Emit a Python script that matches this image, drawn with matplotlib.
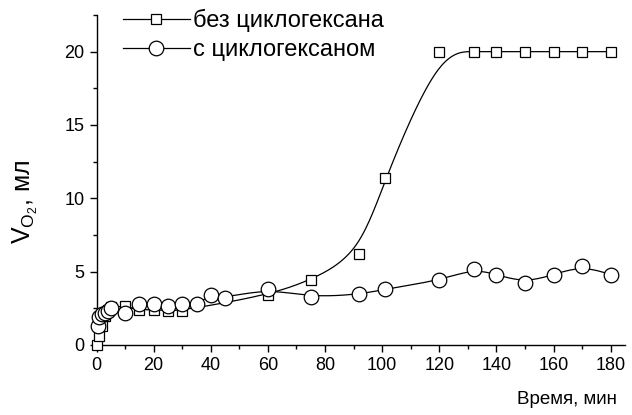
import numpy as np
import matplotlib
matplotlib.use("Agg")
import matplotlib.pyplot as plt
from matplotlib.ticker import MultipleLocator

plt.rcParams['font.family'] = ['Liberation Sans', 'DejaVu Sans']
plt.rcParams['mathtext.fontset'] = 'custom'
plt.rcParams['mathtext.rm'] = 'Liberation Sans'
plt.rcParams['mathtext.it'] = 'Liberation Sans'

# without cyclohexane (squares)
t_no = [0, 1, 2, 3, 4, 5, 10, 15, 20, 25, 30, 60, 75, 92, 101, 120, 132, 140, 150, 160, 170, 180]
v_no = [0, 0.6, 1.3, 2.0, 2.4, 2.6, 2.65, 2.4, 2.4, 2.35, 2.35, 3.4, 4.4, 6.2, 11.4, 20, 20, 20, 20, 20, 20, 20]

# with cyclohexane (circles)
t_cy = [0.5, 1, 2, 3, 4, 5, 10, 15, 20, 25, 30, 35, 40, 45, 60, 75, 92, 101, 120, 132, 140, 150, 160, 170, 180]
v_cy = [1.3, 1.9, 2.1, 2.2, 2.3, 2.5, 2.2, 2.8, 2.8, 2.65, 2.8, 2.8, 3.4, 3.2, 3.85, 3.25, 3.45, 3.8, 4.4, 5.2, 4.8, 4.25, 4.8, 5.4, 4.8]

labels = ['без циклогексана', 'с циклогексаном']


def bspline(x, y, n=40):
    # clamped uniform cubic B-spline, data points used as control points
    p = np.column_stack([x, y]).astype(float)
    p = np.vstack([p[:1], p[:1], p, p[-1:], p[-1:]])
    s = np.linspace(0, 1, n)[:, None]
    b0 = (1 - s) ** 3 / 6
    b1 = (3 * s ** 3 - 6 * s ** 2 + 4) / 6
    b2 = (-3 * s ** 3 + 3 * s ** 2 + 3 * s + 1) / 6
    b3 = s ** 3 / 6
    segs = [b0 * p[i] + b1 * p[i + 1] + b2 * p[i + 2] + b3 * p[i + 3] for i in range(len(p) - 3)]
    c = np.vstack(segs)
    return c[:, 0], c[:, 1]


fig = plt.figure(figsize=(6.32, 4.15), dpi=100)
ax = fig.add_axes([0.1527, 0.1687, 0.8363, 0.7952])

for t, v, m, ms, lab in [(t_no, v_no, 's', 7, labels[0]), (t_cy, v_cy, 'o', 10.5, labels[1])]:
    cx, cy = bspline(t, v)
    ax.plot(cx, cy, color='black', lw=0.9, clip_on=False, zorder=2)
    ax.plot(t, v, linestyle='none', marker=m, ms=ms, mfc='white', mec='black',
            mew=0.9, clip_on=False, zorder=3)
    ax.plot([], [], color='black', lw=0.9, marker=m, ms=ms, mfc='white', mec='black',
            mew=0.9, label=lab)

ax.set_xlim(0, 185)
ax.set_ylim(0, 22.5)
ax.xaxis.set_major_locator(MultipleLocator(20))
ax.xaxis.set_minor_locator(MultipleLocator(10))
ax.yaxis.set_major_locator(MultipleLocator(5))
ax.yaxis.set_minor_locator(MultipleLocator(2.5))
ax.spines['top'].set_visible(False)
ax.spines['right'].set_visible(False)
for sp in ax.spines.values():
    sp.set_linewidth(1.0)
ax.tick_params(which='major', direction='out', length=5, width=1.0, labelsize=13)
ax.tick_params(which='minor', direction='out', length=3, width=1.0)

ax.set_xlabel('Время, мин', fontsize=13.5, loc='right')
ax.xaxis.set_label_coords(0.985, -0.14)
ax.set_ylabel(r'$\mathregular{V_{O_2}}$, мл', fontsize=18)
ax.yaxis.set_label_coords(-0.107, 0.435)

ax.legend(loc='upper left', bbox_to_anchor=(0.033, 1.047), frameon=False, fontsize=17,
          handlelength=2.8, handletextpad=0.13, labelspacing=0.3, borderaxespad=0)

fig.savefig('out.png', dpi=100)
